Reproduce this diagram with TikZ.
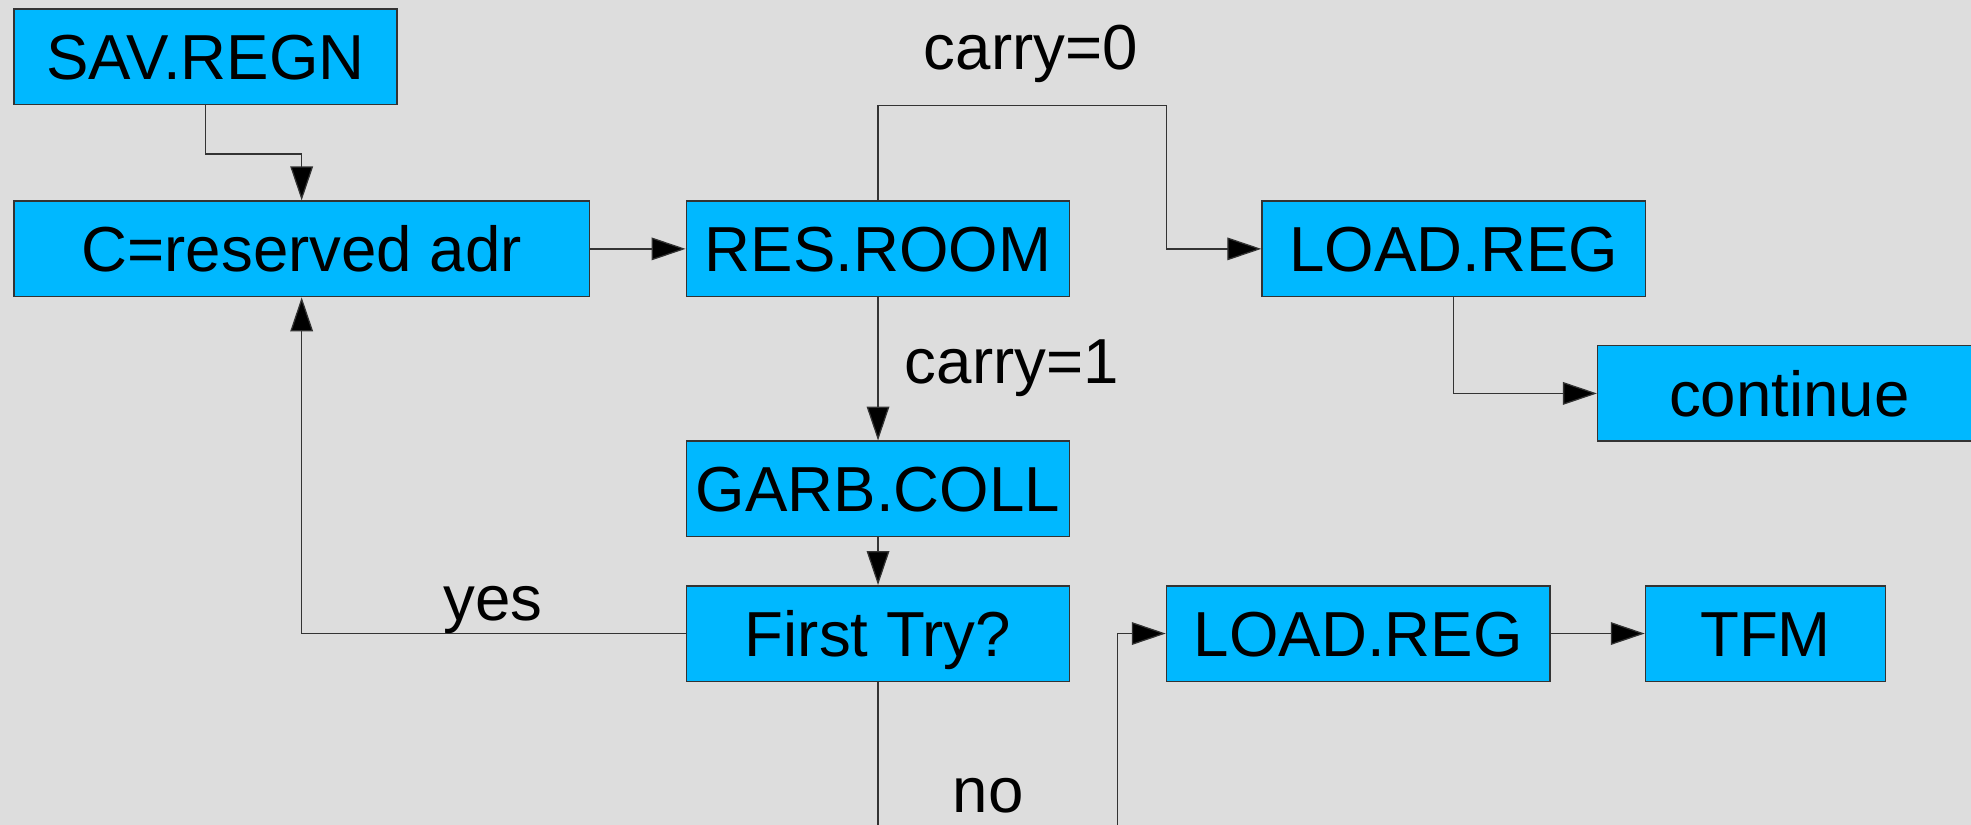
\documentclass[tikz,border=0pt]{standalone}
\usepackage{fontspec}
\setmainfont{Liberation Sans}
\usetikzlibrary{arrows.meta}
\definecolor{bg}{HTML}{DDDDDD}
\definecolor{boxfill}{HTML}{00B8FF}
\definecolor{edge}{HTML}{333333}
\tikzset{
  box/.style={draw=edge, line width=0.6pt, fill=boxfill, minimum width=152.5pt, minimum height=38pt,
    inner sep=0pt, text height=18.1pt, text depth=0pt, font=\fontsize{25.3pt}{29pt}\selectfont},
  lbl/.style={anchor=base, inner sep=0pt, font=\fontsize{25.3pt}{29pt}\selectfont},
  arr/.style={draw=edge, line width=0.5pt, -{Triangle[length=13.5pt,width=9pt,fill=black]}},
  ln/.style={draw=edge, line width=0.5pt}
}
\begin{document}
\begin{tikzpicture}[x=0.5pt,y=-0.5pt]
\useasboundingbox (0,0) rectangle (1568,656);
\fill[bg] (0,0) rectangle (1568,656);
\node[box] (sav) at (163.5,45) {SAV.REGN};
\node[box, minimum width=229pt] (cra) at (240,198) {C=reserved adr};
\node[box] (res) at (698.5,198) {RES.ROOM};
\node[box] (lr1) at (1156.5,198) {LOAD.REG};
\node[box] (cont) at (1423.5,313) {continue};
\node[box] (garb) at (698.5,389) {GARB.COLL};
\node[box] (first) at (698.5,504) {First Try?};
\node[box] (lr2) at (1080.5,504) {LOAD.REG};
\node[box, minimum width=95.5pt] (tfm) at (1404.5,504) {TFM};
\coordinate (top) at (928,84);
\coordinate (nobot) at (698.5,700);
\coordinate (inbot) at (889,700);
\draw[arr] (sav.south) -- ++(0,39) -| (cra.north);
\draw[arr] (cra.east) -- (res.west);
\draw[arr] (res.north) |- (top) |- (lr1.west);
\draw[arr] (lr1.south) |- (cont.west);
\draw[arr] (res.south) -- (garb.north);
\draw[arr] (garb.south) -- (first.north);
\draw[arr] (first.west) -| (cra.south);
\draw[ln] (first.south) -- (nobot);
\draw[arr] (inbot) |- (lr2.west);
\draw[arr] (lr2.east) -- (tfm.west);
\node[lbl] (l0) at (820,55) {carry=0};
\node[lbl] (l1) at (805,305) {carry=1};
\node[lbl] (ly) at (392,494) {yes};
\node[lbl] (ln) at (786,646) {no};
\end{tikzpicture}
\end{document}
